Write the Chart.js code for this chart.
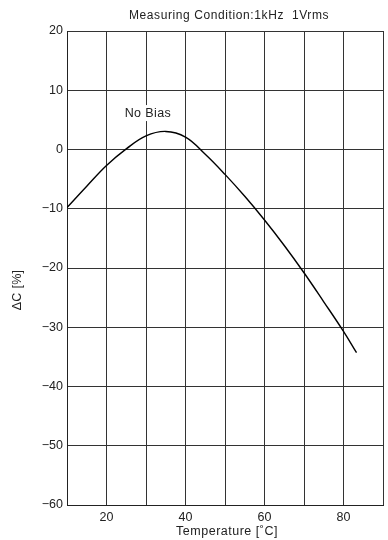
<!DOCTYPE html>
<html>
<head>
<meta charset="utf-8">
<script src="https://cdn.jsdelivr.net/npm/chart.js@4/dist/chart.umd.min.js"></script>
<style>
  html, body { margin: 0; padding: 0; background: #fff; }
  #wrap { width: 388px; height: 540px; position: relative; }
</style>
</head>
<body>
<div id="wrap"><canvas id="capChart"></canvas></div>
<script>
// Temperature characteristic, no bias
const temperatures = [10, 15, 20, 25, 30, 35, 40, 45, 50, 55, 60, 65, 70, 75, 80, 83.3];
const deltaC = [-9.8, -6.2, -2.7, 0.1, 2.3, 3.05, 2.1, -0.8, -4.2, -7.9, -11.9, -16.2, -20.8, -25.7, -30.7, -34.3];
const xTickLabels = [20, 40, 60, 80];
const yTicks = [-60, -50, -40, -30, -20, -10, 0, 10, 20];

const FONT = 'Liberation Sans, Arial, Helvetica, sans-serif';
const INK = '#222';

const points = temperatures.map((t, i) => ({ x: t, y: deltaC[i] }));

// Texts that sit outside the normal Chart.js title/axis positions
const labelsPlugin = {
  id: 'extraLabels',
  afterDraw(chart) {
    const ctx = chart.ctx;
    const xs = chart.scales.x, ys = chart.scales.y;
    ctx.save();
    ctx.fillStyle = INK;
    ctx.textAlign = 'center';
    ctx.textBaseline = 'middle';

    ctx.font = '12px ' + FONT;
    ctx.letterSpacing = '0.6px';
    ctx.fillText('Measuring Condition:1kHz  1Vrms', 229, 16);

    // curve label with white box behind it
    ctx.font = '12.5px ' + FONT;
    ctx.letterSpacing = '0.4px';
    const txt = 'No Bias';
    const w = ctx.measureText(txt).width;
    const cx = xs.getPixelForValue(30.5), cy = ys.getPixelForValue(6.15);
    ctx.fillStyle = '#fff';
    ctx.fillRect(cx - w / 2 - 2, cy - 8, w + 4, 16);
    ctx.fillStyle = INK;
    ctx.fillText(txt, cx, cy);

    ctx.font = '12.5px ' + FONT;
    ctx.letterSpacing = '0.5px';
    ctx.fillText('Temperature [\u02DAC]', 227, 532);

    ctx.translate(18, 290);
    ctx.rotate(-Math.PI / 2);
    ctx.letterSpacing = '0.3px';
    ctx.fillText('\u0394C [%]', 0, 0);
    ctx.restore();
  }
};

new Chart(document.getElementById('capChart'), {
  type: 'line',
  data: {
    datasets: [{
      data: points,
      borderColor: '#000',
      borderWidth: 1.4,
      pointRadius: 0,
      fill: false,
      tension: 0.4
    }]
  },
  options: {
    responsive: true,
    maintainAspectRatio: false,
    animation: false,
    layout: { padding: { top: 31, right: 1, left: 0, bottom: 0 } },
    plugins: {
      legend: { display: false },
      title: { display: false },
      tooltip: { enabled: false }
    },
    scales: {
      x: {
        type: 'linear',
        min: 10,
        max: 90,
        afterFit(scale) { scale.height = 35; },
        grid: { color: '#333', lineWidth: 1, drawTicks: false },
        border: { color: INK, width: 1 },
        ticks: {
          stepSize: 10,
          padding: 5,
          color: INK,
          font: { family: FONT, size: 12.5 },
          maxRotation: 0,
          autoSkip: false,
          callback: v => xTickLabels.includes(v) ? String(v) : ''
        }
      },
      y: {
        min: yTicks[0],
        max: yTicks[yTicks.length - 1],
        afterFit(scale) { scale.width = 67; },
        grid: { color: '#333', lineWidth: 1, drawTicks: false },
        border: { color: INK, width: 1 },
        ticks: {
          stepSize: 10,
          padding: 4,
          color: INK,
          font: { family: FONT, size: 12.5 },
          callback: v => yTicks.includes(v) ? String(v).replace('-', '\u2212') : ''
        }
      }
    }
  },
  plugins: [labelsPlugin]
});
</script>
</body>
</html>
